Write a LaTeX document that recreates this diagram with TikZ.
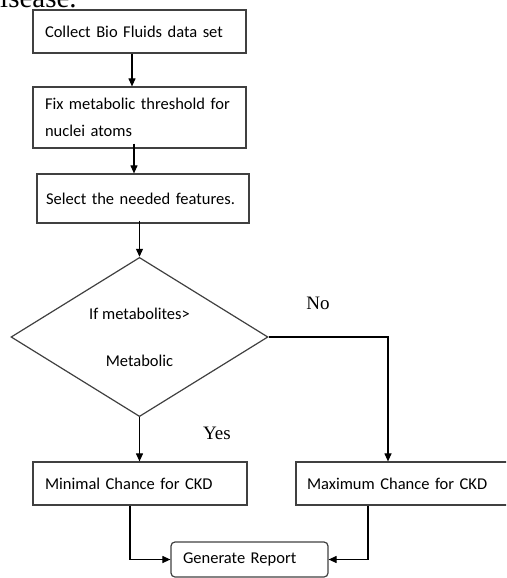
\documentclass[tikz,border=0pt]{standalone}
\usepackage{fontspec}
\newfontfamily\boxfont{Carlito}
\newfontfamily\labelfont{Liberation Serif}
\usepackage{tikz}
\usetikzlibrary{arrows.meta,positioning,calc,shapes.geometric}
\definecolor{linecol}{RGB}{64,64,64}

\begin{document}
\begin{tikzpicture}[
    x=1pt, y=-1pt,
    box/.style={draw=linecol, line width=1.2pt, align=left, inner xsep=12pt, inner ysep=0pt,
      text width=#1, font=\boxfont\fontsize{16.5}{27}\selectfont},
    decision/.style={draw=linecol, line width=1.2pt, diamond, inner sep=0pt, align=center,
      minimum width=257pt, minimum height=156pt, font=\boxfont\fontsize{16.5}{19}\selectfont},
    lbl/.style={inner sep=0pt, font=\labelfont\fontsize{19}{21}\selectfont},
    arr/.style={->, line width=1.1pt},
    >={Triangle[length=8pt,width=7pt]}
  ]
    \useasboundingbox (0,0) rectangle (506,578);
    \clip (0,0) rectangle (506,578);
    % caption cut off by the top edge
    \node[anchor=base west, inner sep=0pt, font=\labelfont\fontsize{29}{30}\selectfont] (caption) at (0,8) {isease.};
    % process boxes
    \node[box=189pt, minimum height=43pt] (collect) at (139.5,31.5) {Collect Bio Fluids data set};
    \node[box=189pt, minimum height=61pt] (fix) at (139.5,117.5) {Fix metabolic threshold for\\nuclei atoms};
    \node[box=194pt, inner xsep=9pt, minimum height=49pt] (select) at (143,198.5) {Select the needed features.};
    \node[decision] (dec) at (139.5,337) {If metabolites>\\[28pt]Metabolic};
    \node[box=190pt, minimum height=43pt] (minimal) at (140,483.5) {Minimal Chance for CKD};
    \node[box=192pt, inner xsep=11pt, minimum height=43pt] (maximum) at (403,483.5) {Maximum Chance for CKD};
    \node[box=133pt, minimum height=35pt, rounded corners=4pt] (report) at (249.5,559.5) {Generate Report};
    \node[lbl] (nolbl) at (318,303) {No};
    \node[lbl] (yeslbl) at (217,433) {Yes};
    % connectors
    \draw[arr] ([xshift=-7.5pt]collect.south) -- ([xshift=-7.5pt]fix.north);
    \draw[arr] ([xshift=-5.5pt,yshift=5pt]fix.south) -- ([xshift=-5.5pt]fix.south |- select.north);
    \draw[arr] ([yshift=3pt]select.south -| dec.north) -- (dec.north);
    \draw[arr] (dec.south) -- (dec.south |- minimal.north);
    \draw[arr] (dec.east) -| ([xshift=-15pt]maximum.north);
    \draw[arr] ([xshift=-10pt]minimal.south) |- (report.west);
    \draw[arr] ([xshift=-35pt]maximum.south) |- (report.east);
\end{tikzpicture}
\end{document}
